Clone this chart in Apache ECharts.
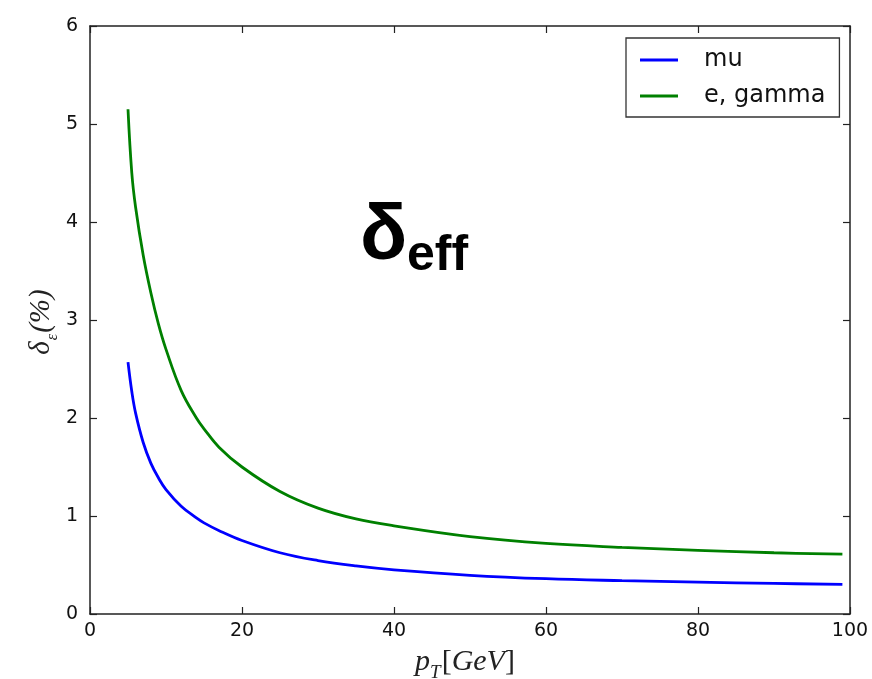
<!DOCTYPE html>
<html>
<head>
<meta charset="utf-8">
<title>delta eff vs pT</title>
<script src="https://cdn.jsdelivr.net/npm/echarts@6/dist/echarts.min.js"></script>
<style>
  html, body { margin: 0; padding: 0; background: #ffffff; }
  #chart { width: 872px; height: 679px; }
</style>
</head>
<body>
<div id="chart"></div>
<script>
// Transverse momentum sample points (GeV)
const pT = [5, 5.5, 6, 7, 8, 9, 10, 12, 14, 15, 17, 20, 25, 30, 35, 40, 50, 60, 70, 80, 90, 99];
// Efficiency uncertainty (%) for muons
const muValues = [2.57, 2.27, 2.05, 1.75, 1.54, 1.39, 1.27, 1.10, 0.98, 0.93, 0.85, 0.75, 0.625, 0.545, 0.49, 0.45, 0.395, 0.36, 0.34, 0.325, 0.312, 0.303];
// Efficiency uncertainty (%) for electrons / photons
const egValues = [5.15, 4.5, 4.15, 3.66, 3.28, 2.96, 2.70, 2.28, 2.00, 1.89, 1.70, 1.50, 1.25, 1.08, 0.97, 0.90, 0.79, 0.72, 0.68, 0.65, 0.625, 0.61];
// Axis ticks
const xTicks = [0, 20, 40, 60, 80, 100];
const yTicks = [0, 1, 2, 3, 4, 5, 6];
const seriesNames = ['mu', 'e, gamma'];

const toPairs = (vals) => pT.map((x, i) => [x, vals[i]]);

const frameColor = '#222222';
const tickFont = { fontSize: 19, color: '#111111', fontFamily: 'DejaVu Sans' };

function xAxisDef(pos, showLabels) {
  return {
    type: 'value', position: pos,
    min: xTicks[0], max: xTicks[xTicks.length - 1], interval: xTicks[1] - xTicks[0],
    axisLine: { show: true, onZero: false, lineStyle: { color: frameColor, width: 1.5 } },
    axisTick: { show: true, inside: true, length: 7, lineStyle: { color: frameColor, width: 1.2 } },
    axisLabel: Object.assign({ show: showLabels, margin: 8 }, tickFont),
    splitLine: { show: false }
  };
}
function yAxisDef(pos, showLabels) {
  return {
    type: 'value', position: pos,
    min: yTicks[0], max: yTicks[yTicks.length - 1], interval: yTicks[1] - yTicks[0],
    axisLine: { show: true, onZero: false, lineStyle: { color: frameColor, width: 1.5 } },
    axisTick: { show: true, inside: true, length: 7, lineStyle: { color: frameColor, width: 1.2 } },
    axisLabel: Object.assign({ show: showLabels, margin: 12 }, tickFont),
    splitLine: { show: false }
  };
}

const chart = echarts.init(document.getElementById('chart'), null, { renderer: 'canvas' });

chart.setOption({
  animation: false,
  backgroundColor: '#ffffff',
  grid: { left: 90, right: 22, top: 26, bottom: 65, containLabel: false },
  xAxis: [xAxisDef('bottom', true), xAxisDef('top', false)],
  yAxis: [yAxisDef('left', true), yAxisDef('right', false)],
  legend: {
    orient: 'vertical',
    left: 626, top: 38,
    padding: [10, 14, 9, 14],
    backgroundColor: '#ffffff',
    borderColor: '#333333', borderWidth: 1.3, borderRadius: 0,
    icon: 'rect',
    itemWidth: 38, itemHeight: 3, itemGap: 12,
    textStyle: { fontSize: 24, color: '#111111', fontFamily: 'DejaVu Sans', padding: [0, 0, 0, 21], lineHeight: 24 },
    data: seriesNames
  },
  series: [
    {
      name: seriesNames[0], type: 'line', xAxisIndex: 0, yAxisIndex: 0,
      data: toPairs(muValues), smooth: 0.4, symbol: 'none',
      lineStyle: { color: '#0000ff', width: 2.8 }, itemStyle: { color: '#0000ff' }
    },
    {
      name: seriesNames[1], type: 'line', xAxisIndex: 0, yAxisIndex: 0,
      data: toPairs(egValues), smooth: 0.4, symbol: 'none',
      lineStyle: { color: '#008000', width: 2.8 }, itemStyle: { color: '#008000' }
    }
  ],
  graphic: [
    // Plot title: delta with "eff" subscript
    {
      type: 'text', left: 360, top: 198, z: 100,
      style: { text: 'δ', font: 'bold 78px "Liberation Sans", Arial, sans-serif', fill: '#000000' }
    },
    {
      type: 'text', left: 407, top: 231, z: 100,
      style: { text: 'eff', font: 'bold 50px "Liberation Sans", Arial, sans-serif', fill: '#000000' }
    },
    // y-axis title
    {
      type: 'text', x: 44, y: 322, rotation: Math.PI / 2, z: 100,
      style: {
        text: '{m|δ}{s|ε}{m|(%)}',
        align: 'center', verticalAlign: 'middle',
        rich: {
          m: { font: 'italic 29px "Liberation Serif", "DejaVu Serif", serif', fill: '#222222', verticalAlign: 'bottom', padding: [0, 0, 5, 0] },
          s: { font: 'italic 16px "Liberation Serif", "DejaVu Serif", serif', fill: '#222222', verticalAlign: 'bottom', padding: [0, 1, 0, 1] }
        }
      }
    },
    // x-axis title
    {
      type: 'text', x: 465, y: 665, z: 100,
      style: {
        text: '{m|p}{s|T}{r|[}{m|GeV}{r|]}',
        align: 'center', verticalAlign: 'middle',
        rich: {
          m: { font: 'italic 30px "Liberation Serif", "DejaVu Serif", serif', fill: '#222222', verticalAlign: 'bottom', padding: [0, 0, 5, 0] },
          r: { font: '30px "Liberation Serif", "DejaVu Serif", serif', fill: '#222222', verticalAlign: 'bottom', padding: [0, 0, 5, 0] },
          s: { font: 'italic 19px "Liberation Serif", "DejaVu Serif", serif', fill: '#222222', verticalAlign: 'bottom', padding: [0, 1, 0, 0] }
        }
      }
    }
  ]
});
</script>
</body>
</html>
